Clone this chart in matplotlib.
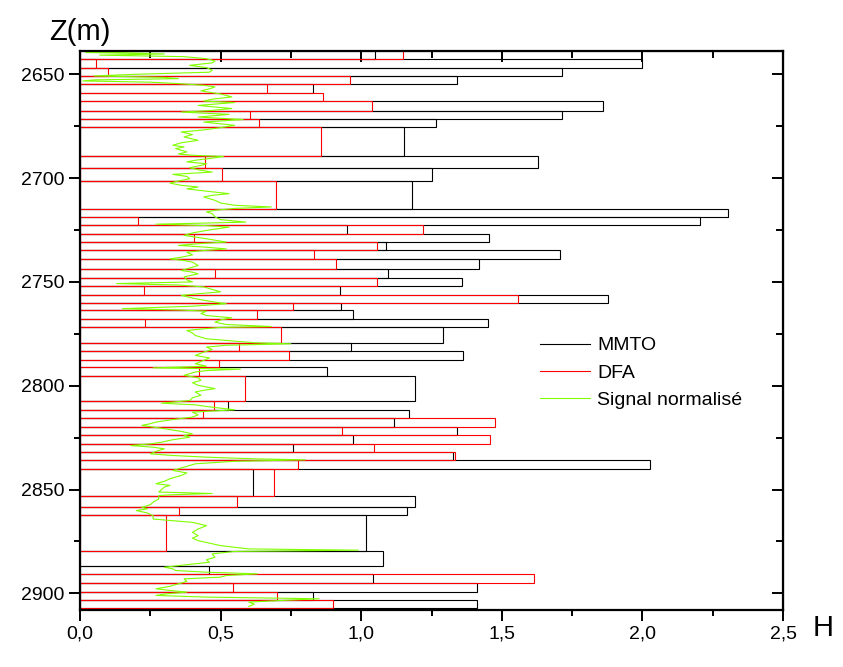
import numpy as np
import matplotlib.pyplot as plt
from matplotlib.lines import Line2D
from matplotlib.ticker import FuncFormatter, MultipleLocator

plt.rcParams["font.family"] = ["Liberation Sans", "DejaVu Sans"]

# depth boundaries of the analysed intervals (m)
bounds = [2636.0, 2642.8, 2646.8, 2650.8, 2654.8, 2658.8, 2663.0, 2667.5, 2671.7,
          2675.5, 2689.2, 2695.1, 2701.5, 2714.7, 2718.8, 2722.8, 2726.8, 2730.8,
          2734.8, 2738.8, 2743.7, 2748.2, 2752.2, 2756.2, 2760.1, 2763.7, 2767.8,
          2771.6, 2779.3, 2783.3, 2787.4, 2791.0, 2795.1, 2807.4, 2811.5, 2815.6,
          2819.7, 2823.7, 2828.0, 2832.0, 2836.0, 2840.0, 2852.9, 2858.5, 2862.5,
          2879.8, 2886.6, 2890.6, 2895.1, 2899.4, 2903.4, 2907.0]

# Hurst exponent per interval (None = not shown)
h_mmto = [1.049, 1.997, 1.715, 1.34, 0.827, None, 1.861, 1.713, 1.265, 1.153,
          1.63, 1.251, 1.18, 2.303, 2.203, 0.951, 1.453, 1.087, 1.708, 1.42,
          1.094, 1.359, 0.925, 1.879, 0.928, 0.972, 1.452, 1.292, 0.964, 1.363,
          None, 0.880, 1.191, 0.527, 1.171, 1.117, 1.342, 0.972, 0.759, 1.327,
          2.027, 0.616, 1.191, 1.164, 1.017, 1.079, 0.46, 1.041, 1.413, 0.83, 1.41]
h_dfa = [1.147, 0.057, 0.10, 0.96, 0.664, 0.865, 1.04, 0.605, 0.637, 0.857,
         0.445, 0.504, 0.696, None, 0.207, 1.221, 0.407, 1.057, 0.832, 0.910,
         0.480, 1.055, 0.229, 1.559, 0.759, 0.631, 0.231, 0.716, 0.567, 0.743,
         0.495, 0.424, 0.587, 0.478, 0.439, 1.475, 0.932, 1.458, 1.047, 1.333,
         0.776, 0.690, 0.559, 0.353, 0.306, None, None, 1.616, 0.545, 0.70, 0.90]

# normalised log signal
sig_z = [2638.8, 2639.5, 2640.2, 2640.8, 2641.5, 2642.5, 2643.6, 2644.5, 2645.7, 2646.8,
         2648.0, 2649.0, 2650.0, 2650.8, 2651.5, 2652.1, 2652.7, 2653.2, 2653.8, 2654.5,
         2655.3, 2656.1, 2657.0, 2658.0, 2659.5, 2660.9, 2662.0, 2662.9, 2663.6, 2665.0,
         2666.5, 2667.5, 2668.2, 2669.3, 2670.6, 2671.8, 2673.0, 2674.6, 2675.7, 2676.8,
         2677.8, 2679.0, 2680.2, 2681.8, 2683.0, 2684.2, 2685.0, 2685.8, 2687.4, 2688.4,
         2689.0, 2689.6, 2690.6, 2691.4, 2692.2, 2693.1, 2693.9, 2695.0, 2696.0, 2697.1,
         2698.2, 2699.2, 2700.3, 2701.4, 2702.4, 2703.5, 2704.3, 2705.2, 2706.3, 2707.5,
         2708.3, 2709.1, 2710.7, 2712.0, 2713.1, 2713.9, 2714.6, 2715.5, 2716.3, 2717.1,
         2718.7, 2720.0, 2721.2, 2721.8, 2722.2, 2722.9, 2723.6, 2725.2, 2726.4, 2727.6,
         2729.0, 2730.8, 2731.6, 2732.4, 2733.2, 2734.1, 2735.0, 2735.7, 2737.0, 2738.1,
         2738.9, 2739.7, 2740.5, 2742.1, 2743.3, 2744.5, 2745.3, 2746.1, 2747.6, 2749.0,
         2750.0, 2750.8, 2751.5, 2752.4, 2753.6, 2754.8, 2755.7, 2756.5, 2758.1, 2759.3,
         2760.5, 2761.7, 2762.9, 2763.5, 2764.1, 2765.2, 2766.2, 2767.3, 2768.3, 2769.4,
         2770.5, 2771.5, 2771.9, 2772.6, 2773.4, 2774.6, 2775.8, 2777.4, 2778.5, 2779.3,
         2779.8, 2780.5, 2781.4, 2782.6, 2783.8, 2785.4, 2786.6, 2787.8, 2789.4, 2790.6,
         2791.4, 2792.0, 2792.7, 2793.4, 2795.0, 2796.2, 2797.4, 2798.6, 2799.8, 2801.4,
         2802.2, 2803.0, 2804.6, 2805.8, 2807.1, 2808.4, 2809.2, 2810.0, 2810.8, 2811.6,
         2812.7, 2814.0, 2815.1, 2816.3, 2817.5, 2818.3, 2819.1, 2820.7, 2822.0, 2823.2,
         2824.0, 2824.8, 2826.0, 2827.2, 2828.0, 2828.8, 2829.6, 2830.4, 2831.6, 2832.8,
         2833.6, 2834.4, 2835.2, 2835.7, 2836.4, 2837.6, 2839.2, 2840.8, 2842.0, 2843.2,
         2844.0, 2844.8, 2846.0, 2847.2, 2848.0, 2848.8, 2850.0, 2851.2, 2851.9, 2852.5,
         2852.9, 2854.5, 2856.1, 2857.3, 2858.5, 2859.3, 2860.1, 2861.3, 2862.6, 2864.2,
         2865.8, 2867.4, 2869.0, 2870.6, 2872.2, 2873.4, 2874.6, 2875.8, 2877.0, 2878.6,
         2879.2, 2879.8, 2881.0, 2882.6, 2883.8, 2885.0, 2886.2, 2887.4, 2888.2, 2889.0,
         2889.8, 2890.6, 2891.4, 2892.2, 2893.0, 2894.2, 2895.4, 2896.6, 2897.8, 2898.6,
         2899.4, 2900.2, 2901.0, 2901.8, 2902.6, 2903.4, 2904.2, 2905.2, 2906.3]
sig_h = [0.41, 0.02, 0.30, 0.07, 0.37, 0.45, 0.48, 0.47, 0.39, 0.45,
         0.47, 0.46, 0.20, 0.05, 0.30, 0.35, 0.05, 0.01, 0.25, 0.35,
         0.44, 0.48, 0.46, 0.43, 0.50, 0.54, 0.47, 0.44, 0.55, 0.42,
         0.54, 0.46, 0.36, 0.53, 0.42, 0.58, 0.44, 0.55, 0.50, 0.44,
         0.36, 0.40, 0.37, 0.42, 0.36, 0.33, 0.37, 0.34, 0.38, 0.35,
         0.40, 0.51, 0.46, 0.41, 0.38, 0.45, 0.43, 0.39, 0.42, 0.47,
         0.33, 0.38, 0.39, 0.35, 0.32, 0.36, 0.42, 0.38, 0.45, 0.53,
         0.47, 0.44, 0.48, 0.50, 0.55, 0.68, 0.55, 0.48, 0.45, 0.47,
         0.48, 0.50, 0.59, 0.40, 0.27, 0.45, 0.53, 0.45, 0.40, 0.37,
         0.44, 0.52, 0.42, 0.35, 0.44, 0.52, 0.43, 0.38, 0.40, 0.36,
         0.32, 0.37, 0.40, 0.42, 0.39, 0.36, 0.40, 0.42, 0.37, 0.38,
         0.40, 0.13, 0.35, 0.44, 0.47, 0.50, 0.42, 0.36, 0.41, 0.46,
         0.52, 0.40, 0.15, 0.35, 0.45, 0.43, 0.45, 0.54, 0.50, 0.48,
         0.52, 0.68, 0.50, 0.44, 0.38, 0.40, 0.41, 0.45, 0.55, 0.62,
         0.75, 0.52, 0.45, 0.47, 0.44, 0.41, 0.46, 0.44, 0.41, 0.45,
         0.26, 0.57, 0.45, 0.41, 0.37, 0.42, 0.43, 0.40, 0.42, 0.48,
         0.44, 0.41, 0.43, 0.40, 0.39, 0.29, 0.41, 0.45, 0.50, 0.55,
         0.40, 0.42, 0.40, 0.33, 0.27, 0.25, 0.22, 0.30, 0.36, 0.40,
         0.37, 0.39, 0.33, 0.29, 0.25, 0.18, 0.26, 0.30, 0.27, 0.25,
         0.33, 0.45, 0.62, 0.80, 0.55, 0.41, 0.37, 0.33, 0.38, 0.36,
         0.34, 0.32, 0.30, 0.27, 0.32, 0.30, 0.29, 0.28, 0.47, 0.33,
         0.28, 0.28, 0.26, 0.25, 0.22, 0.24, 0.20, 0.24, 0.26, 0.26,
         0.40, 0.45, 0.42, 0.40, 0.42, 0.40, 0.42, 0.46, 0.50, 0.60,
         0.99, 0.55, 0.47, 0.48, 0.45, 0.46, 0.38, 0.30, 0.33, 0.34,
         0.45, 0.63, 0.52, 0.50, 0.37, 0.38, 0.35, 0.32, 0.27, 0.32,
         0.38, 0.31, 0.27, 0.45, 0.85, 0.72, 0.60, 0.62, 0.60]

fig = plt.figure(figsize=(8.43, 6.67), dpi=100)
ax = fig.add_axes([0.0949, 0.0855, 0.834, 0.838])

tops = np.array(bounds[:-1])
thick = np.diff(bounds)


def draw_bars(values, color):
    v = np.array([np.nan if x is None else x for x in values])
    ok = ~np.isnan(v)
    ax.barh(tops[ok], v[ok], height=thick[ok], left=0, align="edge",
            fill=False, edgecolor=color, linewidth=0.8)


draw_bars(h_mmto, "black")
draw_bars(h_dfa, "#ff0000")
ax.plot(sig_h, sig_z, color="#80ff00", linewidth=0.8)

ax.set_xlim(0, 2.5)
ax.set_ylim(2908.0, 2638.8)

ax.xaxis.set_major_locator(MultipleLocator(0.5))
ax.xaxis.set_minor_locator(MultipleLocator(0.25))
ax.yaxis.set_major_locator(MultipleLocator(50))
ax.yaxis.set_minor_locator(MultipleLocator(25))
ax.xaxis.set_major_formatter(FuncFormatter(lambda v, p: f"{v:.1f}".replace(".", ",")))

for s in ax.spines.values():
    s.set_linewidth(1.6)
ax.tick_params(which="major", direction="out", length=8, width=1.4, labelsize=14)
ax.tick_params(which="minor", direction="out", length=4, width=1.4)

# inward ticks on the top and right sides
top = ax.secondary_xaxis("top")
top.xaxis.set_major_locator(MultipleLocator(0.5))
top.xaxis.set_minor_locator(MultipleLocator(0.25))
top.tick_params(which="major", direction="in", length=8, width=1.4, labeltop=False)
top.tick_params(which="minor", direction="in", length=5, width=1.4)
right = ax.secondary_yaxis("right")
right.yaxis.set_major_locator(MultipleLocator(50))
right.yaxis.set_minor_locator(MultipleLocator(25))
right.tick_params(which="major", direction="in", length=8, width=1.4, labelright=False)
right.tick_params(which="minor", direction="in", length=5, width=1.4)

fig.text(80 / 843, 1 - 46 / 667, "Z(m)", fontsize=21, ha="center", va="bottom")
fig.text(823 / 843, 1 - 628 / 667, "H", fontsize=21, ha="center", va="center")

handles = [Line2D([], [], color="black", linewidth=0.8),
           Line2D([], [], color="#ff0000", linewidth=0.8),
           Line2D([], [], color="#80ff00", linewidth=0.8)]
fig.legend(handles, ["MMTO", "DFA", "Signal normalisé"], loc="upper left",
           bbox_to_anchor=(530 / 843, 1 - 327 / 667), frameon=False, fontsize=14,
           handlelength=2.6, handletextpad=0.35, labelspacing=0.5, borderpad=0)

fig.savefig("out.png", dpi=100)
